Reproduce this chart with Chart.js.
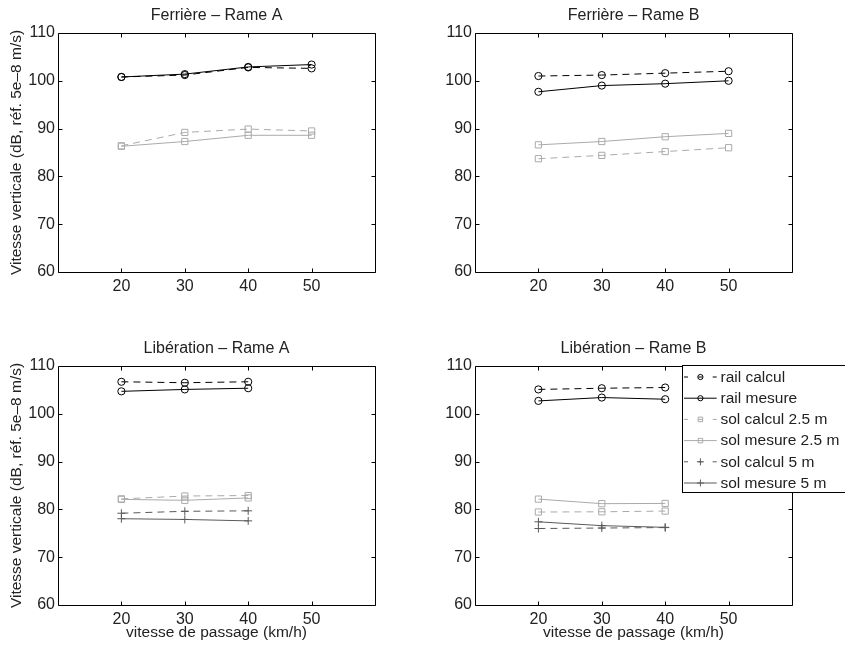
<!DOCTYPE html>
<html><head><meta charset="utf-8">
<script src="https://cdn.jsdelivr.net/npm/chart.js@4/dist/chart.umd.min.js"></script>
<style>
html,body{margin:0;padding:0;background:#fff}
body{width:845px;height:645px;position:relative;overflow:hidden}
canvas{position:absolute}
</style>
</head><body>
<canvas id="c0" width="420" height="300" style="left:0;top:0"></canvas>
<canvas id="c1" width="425" height="300" style="left:420px;top:0"></canvas>
<canvas id="c2" width="420" height="325" style="left:0;top:320px"></canvas>
<canvas id="c3" width="425" height="325" style="left:420px;top:320px"></canvas>
<script>
// ---- data ----
const speeds4 = [20, 30, 40, 50];
const speeds3 = [20, 30, 40];
const xTickValues = [20, 30, 40, 50];
const yTickValues = [60, 70, 80, 90, 100, 110];
const seriesNames = ['rail calcul', 'rail mesure', 'sol calcul 2.5 m', 'sol mesure 2.5 m', 'sol calcul 5 m', 'sol mesure 5 m'];
const panelTitles = ['Ferrière – Rame A', 'Ferrière – Rame B', 'Libération – Rame A', 'Libération – Rame B'];
const yAxisLabel = 'Vitesse verticale (dB, réf. 5e–8 m/s)';
const xAxisLabel = 'vitesse de passage (km/h)';

// Ferrière – Rame A
const ferA_railCalcul = [100.8, 101.2, 102.8, 102.6];
const ferA_railMesure = [100.8, 101.4, 102.9, 103.4];
const ferA_solCalcul25 = [86.4, 89.2, 89.9, 89.5];
const ferA_solMesure25 = [86.3, 87.3, 88.6, 88.6];
// Ferrière – Rame B
const ferB_railCalcul = [101.0, 101.2, 101.6, 102.0];
const ferB_railMesure = [97.7, 99.0, 99.4, 100.0];
const ferB_solCalcul25 = [83.7, 84.4, 85.2, 86.0];
const ferB_solMesure25 = [86.6, 87.3, 88.3, 89.0];
// Libération – Rame A
const libA_railCalcul = [106.7, 106.5, 106.7];
const libA_railMesure = [104.7, 105.1, 105.35];
const libA_solCalcul25 = [82.2, 82.8, 82.9];
const libA_solMesure25 = [82.1, 81.9, 82.4];
const libA_solCalcul5 = [79.2, 79.6, 79.7];
const libA_solMesure5 = [78.05, 77.9, 77.6];
// Libération – Rame B
const libB_railCalcul = [105.1, 105.35, 105.5];
const libB_railMesure = [102.7, 103.4, 103.05];
const libB_solCalcul25 = [79.45, 79.5, 79.65];
const libB_solMesure25 = [82.15, 81.2, 81.25];
const libB_solCalcul5 = [76.0, 76.1, 76.2];
const libB_solMesure5 = [77.4, 76.6, 76.25];

// ---- styles ----
const FONT = '"Liberation Sans", Arial, sans-serif';
const styles = [
  {color: '#000000', dash: [7, 5], marker: 'circle', r: 3.6},
  {color: '#000000', dash: [], marker: 'circle', r: 3.6},
  {color: '#aaaaaa', dash: [7, 5], marker: 'rect', r: 4.4},
  {color: '#aaaaaa', dash: [], marker: 'rect', r: 4.4},
  {color: '#5a5a5a', dash: [7, 5], marker: 'cross', r: 4},
  {color: '#5a5a5a', dash: [], marker: 'cross', r: 4}
];
const legendR = [2.6, 2.6, 3.2, 3.2, 3.5, 3.5];

function ds(idx, xs, ys) {
  const s = styles[idx];
  return {
    label: seriesNames[idx],
    data: xs.map((x, i) => ({x: x, y: ys[i]})),
    borderColor: s.color, borderWidth: 1, borderDash: s.dash,
    pointStyle: s.marker, pointRadius: s.r, pointBorderColor: s.color,
    pointBackgroundColor: 'rgba(0,0,0,0)', pointBorderWidth: 1,
    pointHoverRadius: s.r, tension: 0, fill: false
  };
}

const panels = [
  {id: 'c0', W: 420, H: 300, L: 58, R: 375, T: 33, B: 272, yLab: true, xLab: false, legend: false,
   datasets: [ds(0, speeds4, ferA_railCalcul), ds(1, speeds4, ferA_railMesure), ds(2, speeds4, ferA_solCalcul25), ds(3, speeds4, ferA_solMesure25)]},
  {id: 'c1', W: 425, H: 300, L: 55, R: 372, T: 33, B: 272, yLab: false, xLab: false, legend: false,
   datasets: [ds(0, speeds4, ferB_railCalcul), ds(1, speeds4, ferB_railMesure), ds(2, speeds4, ferB_solCalcul25), ds(3, speeds4, ferB_solMesure25)]},
  {id: 'c2', W: 420, H: 325, L: 58, R: 375, T: 46, B: 285, yLab: true, xLab: true, legend: false,
   datasets: [ds(0, speeds3, libA_railCalcul), ds(1, speeds3, libA_railMesure), ds(2, speeds3, libA_solCalcul25), ds(3, speeds3, libA_solMesure25), ds(4, speeds3, libA_solCalcul5), ds(5, speeds3, libA_solMesure5)]},
  {id: 'c3', W: 425, H: 325, L: 55, R: 372, T: 46, B: 285, yLab: false, xLab: true, legend: true,
   datasets: [ds(0, speeds3, libB_railCalcul), ds(1, speeds3, libB_railMesure), ds(2, speeds3, libB_solCalcul25), ds(3, speeds3, libB_solMesure25), ds(4, speeds3, libB_solCalcul5), ds(5, speeds3, libB_solMesure5)]}
];

const matlabAxes = {
  id: 'matlabAxes',
  afterDraw(chart, args, opts) {
    const ctx = chart.ctx, a = chart.chartArea;
    const xs = chart.scales.x, ys = chart.scales.y;
    ctx.save();
    ctx.strokeStyle = '#000'; ctx.lineWidth = 1; ctx.setLineDash([]);
    const l = Math.round(a.left) + 0.5, r = Math.round(a.right) + 0.5;
    const t = Math.round(a.top) + 0.5, b = Math.round(a.bottom) + 0.5;
    ctx.beginPath();
    ctx.rect(l, t, r - l, b - t);
    const tl = 4;
    xTickValues.forEach(v => {
      const px = Math.round(xs.getPixelForValue(v)) + 0.5;
      ctx.moveTo(px, b); ctx.lineTo(px, b - tl);
      ctx.moveTo(px, t); ctx.lineTo(px, t + tl);
    });
    yTickValues.forEach(v => {
      const py = Math.round(ys.getPixelForValue(v)) + 0.5;
      ctx.moveTo(l, py); ctx.lineTo(l + tl, py);
      ctx.moveTo(r, py); ctx.lineTo(r - tl, py);
    });
    ctx.stroke();
    // title
    ctx.fillStyle = '#222';
    ctx.font = '16px ' + FONT;
    ctx.textAlign = 'center'; ctx.textBaseline = 'middle';
    ctx.fillText(opts.title, (a.left + a.right) / 2, a.top - 17);
    // legend
    if (opts.legend) {
      const bx = 262.5, by = 45.5, bw = 200, bh = 127;
      ctx.fillStyle = '#fff';
      ctx.fillRect(bx, by, bw, bh);
      ctx.strokeStyle = '#000';
      ctx.strokeRect(bx, by, bw, bh);
      ctx.font = '15.5px ' + FONT;
      ctx.textAlign = 'left';
      seriesNames.forEach((name, i) => {
        const s = styles[i];
        const y = 57 + i * 21.2;
        ctx.strokeStyle = s.color;
        ctx.lineWidth = 1;
        ctx.setLineDash(s.dash.length ? [4, 10.35] : []);
        ctx.beginPath(); ctx.moveTo(264, y); ctx.lineTo(296.7, y); ctx.stroke();
        ctx.setLineDash([]);
        ctx.fillStyle = 'rgba(0,0,0,0)';
        ctx.strokeStyle = s.color;
        Chart.helpers.drawPoint(ctx, {pointStyle: s.marker, radius: legendR[i], borderWidth: 1}, 280.4, y);
        ctx.fillStyle = '#222';
        ctx.fillText(name, 300.5, y + 0.5);
      });
    }
    ctx.restore();
  }
};

panels.forEach((p, k) => {
  new Chart(document.getElementById(p.id), {
    type: 'line',
    data: {datasets: p.datasets},
    plugins: [matlabAxes],
    options: {
      responsive: false, animation: false, devicePixelRatio: 1,
      layout: {padding: {left: 0, top: p.T, right: p.W - p.R, bottom: 0}},
      plugins: {legend: {display: false}, tooltip: {enabled: false}, title: {display: false},
        matlabAxes: {title: panelTitles[k], legend: p.legend}},
      scales: {
        x: {
          type: 'linear', min: 10, max: 60,
          afterBuildTicks: s => { s.ticks = xTickValues.map(v => ({value: v})); },
          afterFit: s => { s.height = p.H - p.B; },
          grid: {display: false, drawTicks: false}, border: {display: false},
          ticks: {color: '#222', font: {family: FONT, size: 16}, padding: 5, maxRotation: 0},
          title: {display: p.xLab, text: xAxisLabel, color: '#222', font: {family: FONT, size: 15.5}, padding: {top: 0, bottom: 3}}
        },
        y: {
          type: 'linear', min: 60, max: 110,
          afterBuildTicks: s => { s.ticks = yTickValues.map(v => ({value: v})); },
          afterFit: s => { s.width = p.L; },
          grid: {display: false, drawTicks: false}, border: {display: false},
          ticks: {color: '#222', font: {family: FONT, size: 16}, padding: 3},
          title: {display: p.yLab, text: yAxisLabel, color: '#222', font: {family: FONT, size: 15.5}, padding: {top: 7, bottom: 0}}
        }
      }
    }
  });
});
</script>
</body></html>
